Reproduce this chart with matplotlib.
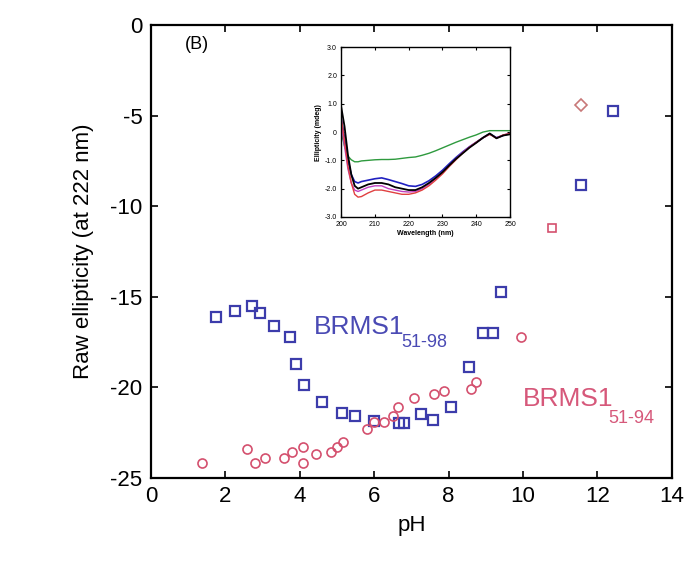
import matplotlib.pyplot as plt

plt.rcParams['font.family'] = ['Liberation Sans', 'DejaVu Sans']
plt.rcParams['axes.unicode_minus'] = False

# main panel: raw ellipticity at 222 nm versus pH
ph_98 = [1.76, 2.25, 2.72, 2.92, 3.32, 3.75, 3.91, 4.11, 4.61, 5.13, 5.49, 6.0,
         6.66, 6.81, 7.26, 7.58, 8.06, 8.56, 8.92, 9.19, 9.42, 11.55, 12.42]
ell_98 = [-16.1, -15.8, -15.5, -15.9, -16.6, -17.2, -18.7, -19.9, -20.8, -21.4, -21.6, -21.85,
          -22.0, -22.0, -21.5, -21.8, -21.1, -18.9, -17.0, -17.0, -14.75, -8.8, -4.76]

ph_94 = [1.37, 2.57, 2.81, 3.08, 3.57, 3.80, 4.08, 4.08, 4.43, 4.83, 5.01, 5.15,
         5.82, 6.0, 6.27, 6.51, 6.63, 7.06, 7.6, 7.88, 8.6, 8.74, 9.95]
ell_94 = [-24.2, -23.4, -24.2, -23.9, -23.9, -23.6, -23.3, -24.2, -23.7, -23.6, -23.3, -23.0,
          -22.3, -21.9, -21.9, -21.6, -21.1, -20.6, -20.4, -20.2, -20.1, -19.7, -17.2]
ph_94_sq, ell_94_sq = [10.78], [-11.2]
ph_94_dm, ell_94_dm = [11.57], [-4.39]

# inset: CD spectra
wl = [200, 201, 202, 203, 204, 205, 206, 208, 210, 212, 214, 216, 218, 220, 222,
      224, 226, 228, 230, 232, 234, 236, 238, 240, 242, 244, 246, 248, 250]
cd_green = [0.0, -0.5, -0.85, -0.98, -1.05, -1.05, -1.02, -1.0, -0.98, -0.97, -0.97, -0.96, -0.93, -0.9, -0.88,
            -0.82, -0.75, -0.66, -0.56, -0.46, -0.36, -0.27, -0.18, -0.1, 0.0, 0.05, 0.05, 0.05, 0.05]
cd_blue = [0.5, -0.2, -1.0, -1.5, -1.75, -1.8, -1.75, -1.7, -1.65, -1.62, -1.68, -1.75, -1.82, -1.9, -1.92,
           -1.85, -1.72, -1.55, -1.35, -1.12, -0.9, -0.7, -0.52, -0.36, -0.2, -0.06, -0.2, -0.12, -0.05]
cd_magenta = [0.3, -0.5, -1.3, -1.8, -2.05, -2.1, -2.05, -1.95, -1.9, -1.9, -2.0, -2.05, -2.1, -2.12, -2.1,
              -2.0, -1.85, -1.65, -1.42, -1.18, -0.94, -0.72, -0.52, -0.36, -0.2, -0.08, -0.2, -0.1, -0.05]
cd_red = [0.5, -0.3, -1.2, -1.8, -2.2, -2.3, -2.28, -2.15, -2.05, -2.05, -2.1, -2.15, -2.2, -2.2, -2.15,
          -2.05, -1.9, -1.7, -1.48, -1.22, -0.98, -0.74, -0.54, -0.36, -0.2, -0.08, -0.22, -0.1, -0.05]
cd_black = [0.9, 0.2, -0.8, -1.5, -1.9, -2.0, -1.95, -1.85, -1.8, -1.8, -1.85, -1.95, -2.0, -2.05, -2.05,
            -1.95, -1.8, -1.62, -1.42, -1.18, -0.95, -0.75, -0.55, -0.38, -0.2, -0.05, -0.22, -0.12, -0.08]

blue = '#3c3cab'
red = '#d4506e'

fig = plt.figure(figsize=(6.92, 5.62), dpi=100)
ax = fig.add_axes([0.218, 0.15, 0.753, 0.805])

ax.plot(ph_98, ell_98, 's', mfc='none', mec=blue, ms=6.5, mew=1.6)
ax.plot(ph_94, ell_94, 'o', mfc='none', mec=red, ms=6.5, mew=1.2)
ax.plot(ph_94_sq, ell_94_sq, 's', mfc='none', mec=red, ms=6, mew=1.2)
ax.plot(ph_94_dm, ell_94_dm, 'D', mfc='none', mec='#c87878', ms=6, mew=1.2)

ax.set_xlim(0, 14)
ax.set_ylim(-25, 0)
ax.set_xticks(range(0, 15, 2))
ax.set_yticks(range(-25, 1, 5))
ax.tick_params(direction='in', top=True, right=True, length=5, width=1.2,
               labelsize=16, pad=6)
for s in ax.spines.values():
    s.set_linewidth(1.6)
ax.set_xlabel('pH', fontsize=16, labelpad=6)
ax.set_ylabel('Raw ellipticity (at 222 nm)', fontsize=16, labelpad=12)

ax.text(1.25, -1.05, '(B)', fontsize=13, va='center', ha='center')
ax.text(4.37, -17.07, 'BRMS1', fontsize=19, color='#4a4ab4', va='baseline')
ax.text(6.72, -17.75, '51-98', fontsize=13, color='#4a4ab4', va='baseline')
ax.text(10.0, -21.05, 'BRMS1', fontsize=19, color='#d6587a', va='baseline')
ax.text(12.3, -22.0, '51-94', fontsize=13, color='#d6587a', va='baseline')

# inset
ins = fig.add_axes([0.493, 0.614, 0.244, 0.302])
ins.plot(wl, cd_green, color='#2e9a3e', lw=1.0)
ins.plot(wl, cd_blue, color='#2020c0', lw=1.2)
ins.plot(wl, cd_magenta, color='#c040c0', lw=1.0)
ins.plot(wl, cd_red, color='#e04040', lw=1.0)
ins.plot(wl, cd_black, color='black', lw=1.3)
ins.set_xlim(200, 250)
ins.set_ylim(-3, 3)
ins.set_xticks(range(200, 251, 10))
ins.set_yticks([-3, -2, -1, 0, 1, 2, 3])
ins.set_yticklabels(['-3.0', '-2.0', '-1.0', '0', '1.0', '2.0', '3.0'])
ins.tick_params(direction='in', top=True, right=True, length=2.5, width=0.8,
                labelsize=5, pad=3)
for s in ins.spines.values():
    s.set_linewidth(1.0)
ins.set_xlabel('Wavelength (nm)', fontsize=5, labelpad=1.5, fontweight='bold')
ins.set_ylabel('Ellipticity (mdeg)', fontsize=5, labelpad=2, fontweight='bold')

fig.savefig('out.png', dpi=100)
